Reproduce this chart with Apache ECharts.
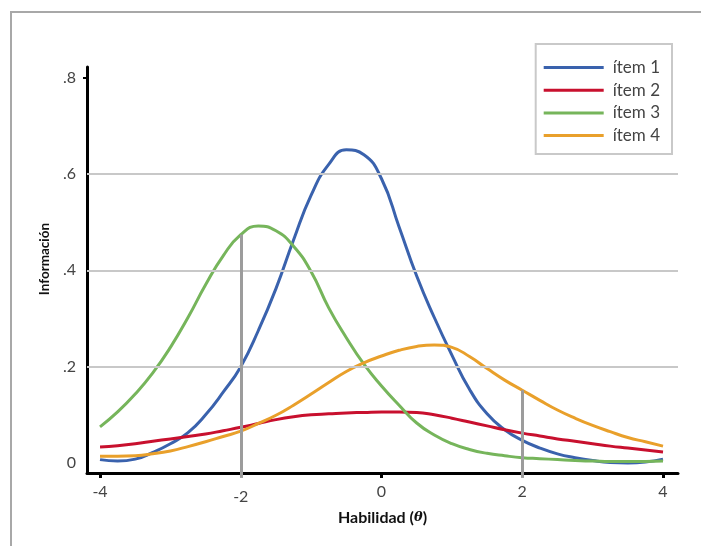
<!DOCTYPE html>
<html>
<head>
<meta charset="utf-8">
<script src="https://cdn.jsdelivr.net/npm/echarts@6/dist/echarts.min.js"></script>
<style>
html,body{margin:0;padding:0;background:#fff;}
#main{width:701px;height:546px;}
</style>
</head>
<body>
<div id="main"></div>
<script>
// ---- data ----
const thetas = [-4,-3.75,-3.5,-3.25,-3,-2.75,-2.5,-2.25,-2,-1.75,-1.5,-1.25,-1,-0.75,-0.5,-0.25,0,0.25,0.5,0.75,1,1.25,1.5,1.75,2,2.25,2.5,2.75,3,3.25,3.5,3.75,4];
const item1 = [0.007,0.004,0.008,0.022,0.04,0.063,0.1,0.147,0.2,0.275,0.362,0.463,0.556,0.62,0.65,0.64,0.59,0.49,0.388,0.302,0.224,0.153,0.102,0.069,0.047,0.031,0.019,0.011,0.005,0.001,0.0,0.002,0.008];
const item2 = [0.033,0.036,0.04,0.045,0.05,0.055,0.06,0.067,0.074,0.082,0.09,0.096,0.1,0.102,0.104,0.105,0.106,0.106,0.105,0.1,0.093,0.085,0.077,0.069,0.062,0.056,0.05,0.045,0.04,0.035,0.031,0.027,0.023];
const item3 = [0.075,0.106,0.143,0.187,0.24,0.302,0.37,0.43,0.474,0.492,0.482,0.45,0.397,0.322,0.26,0.205,0.16,0.12,0.083,0.058,0.04,0.028,0.02,0.015,0.011,0.009,0.007,0.005,0.004,0.003,0.003,0.003,0.004];
const item4 = [0.014,0.014,0.015,0.019,0.025,0.034,0.044,0.055,0.066,0.082,0.099,0.12,0.143,0.167,0.19,0.208,0.222,0.234,0.242,0.245,0.24,0.221,0.196,0.172,0.151,0.13,0.11,0.093,0.078,0.065,0.053,0.044,0.035];
const seriesNames = ['ítem 1','ítem 2','ítem 3','ítem 4'];
const seriesColors = ['#3a62ad','#c8102e','#76b55b','#e9a02b'];
const xTicks = [-4,-2,0,2,4];
const xBlackTicks = [-4,0,4];
const yTicks = [0,0.2,0.4,0.6,0.8];
const yTickLabels = ['0','.2','.4','.6','.8'];
const gridValues = [0.2,0.4,0.6];
const refLines = [[-2,0.474],[2,0.151]];
const refLineBottom = -0.031;

const chart = echarts.init(document.getElementById('main'));
const FONT = 'Lato';
const allItems = [item1,item2,item3,item4];
const X_MIN = -4.185, X_MAX = 4.213, Y_MIN = -0.0208, Y_MAX = 0.822;

const series = allItems.map((arr,k)=>({
  name: seriesNames[k],
  type:'line',
  smooth:0.5,
  symbol:'none',
  z:3,
  lineStyle:{width:3,color:seriesColors[k]},
  itemStyle:{color:seriesColors[k]},
  data: thetas.map((t,i)=>[t,arr[i]])
}));
series.push({
  name:'ref',
  type:'line',
  xAxisIndex:1,
  yAxisIndex:1,
  data:[],
  z:1,
  silent:true,
  markLine:{
    silent:true,
    symbol:'none',
    label:{show:false},
    animation:false,
    data: gridValues.map(v=>({yAxis:v,lineStyle:{color:'#c8c8c8',width:2,type:'solid'}}))
      .concat(refLines.map(r=>[{coord:[r[0],r[1]],lineStyle:{color:'#9c9c9c',width:3,type:'solid'}},{coord:[r[0],refLineBottom]}]))
  }
});

chart.setOption({
  animation:false,
  backgroundColor:'#fff',
  grid:[
    {left:87,right:23,top:67,bottom:73},
    {left:87,right:23,top:67,bottom:68}
  ],
  legend:{
    data:seriesNames,
    orient:'vertical',
    right:29,
    top:44,
    width:120,
    padding:[15,12,10,8],
    borderColor:'#c9c9c9',
    borderWidth:2,
    itemWidth:60,
    itemHeight:3,
    itemGap:5.7,
    icon:'rect',
    textStyle:{fontFamily:FONT,fontSize:17,color:'#444',lineHeight:17,padding:[0,0,0,4]}
  },
  xAxis:[{
    type:'value',
    min:X_MIN,
    max:X_MAX,
    name:'Habilidad ({th|θ})',
    nameLocation:'middle',
    nameGap:37,
    nameTextStyle:{fontFamily:FONT,fontSize:16,fontWeight:'bold',color:'#111',
      rich:{th:{fontFamily:'DejaVu Serif',fontStyle:'italic',fontWeight:'bold',fontSize:13,color:'#111'}}},
    axisLine:{show:true,onZero:false,lineStyle:{color:'#000',width:3}},
    axisTick:{show:true,customValues:xBlackTicks,length:5,lineStyle:{color:'#000',width:3}},
    axisLabel:{
      customValues:xTicks,
      margin:11,
      fontFamily:FONT,fontSize:16,color:'#444',
      formatter:v=> v===-2 ? '{low|-2}' : String(v),
      rich:{low:{fontFamily:FONT,fontSize:16,color:'#444',padding:[5,0,0,0]}}
    },
    splitLine:{show:false}
  },{
    type:'value',gridIndex:1,min:X_MIN,max:X_MAX,show:false
  }],
  yAxis:[{
    type:'value',
    min:Y_MIN,
    max:Y_MAX,
    name:'Información',
    nameLocation:'middle',
    nameGap:34,
    nameTextStyle:{fontFamily:FONT,fontSize:13.5,fontWeight:'bold',color:'#111',padding:[0,0,0,22]},
    axisLine:{show:true,onZero:false,lineStyle:{color:'#000',width:3}},
    axisTick:{show:true,customValues:[0.8],length:4,lineStyle:{color:'#000',width:2}},
    axisLabel:{
      customValues:yTicks,
      margin:11,
      fontFamily:FONT,fontSize:16,color:'#444',
      formatter:v=>{ const i=yTicks.findIndex(t=>Math.abs(t-v)<1e-9); return i>=0?yTickLabels[i]:''; }
    },
    splitLine:{show:false}
  },{
    type:'value',gridIndex:1,min:Y_MIN-(5/481.5),max:Y_MAX,show:false
  }],
  graphic:[
    {type:'line',silent:true,shape:{x1:10,y1:12,x2:701,y2:12},style:{stroke:'#a8a8a8',lineWidth:2}},
    {type:'line',silent:true,shape:{x1:11,y1:12,x2:11,y2:546},style:{stroke:'#a8a8a8',lineWidth:2}}
  ],
  series:series
});
</script>
</body>
</html>
